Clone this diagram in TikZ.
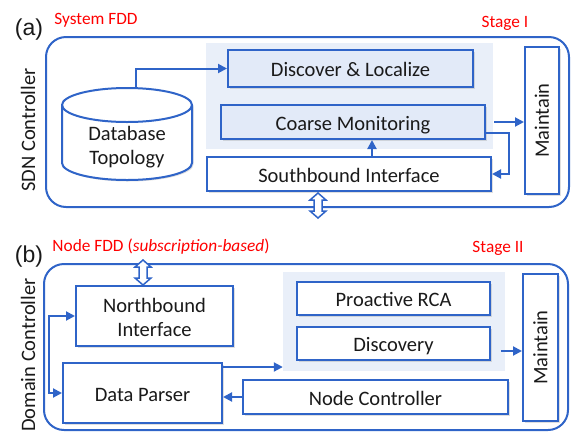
\documentclass[tikz,border=0pt]{standalone}
\usepackage{fontspec}
\setmainfont{Carlito}
\newfontfamily\arialf{Liberation Sans}
\usetikzlibrary{arrows.meta,shadows}
\definecolor{blu}{RGB}{47,100,200}
\definecolor{shd}{RGB}{233,239,249}
\definecolor{bxf}{RGB}{226,234,248}
\definecolor{txt}{RGB}{26,26,26}
\begin{document}
\begin{tikzpicture}[x=1pt,y=-1pt,
  body/.style={font=\fontsize{20.5}{24}\selectfont, text=txt},
  box/.style={body, draw=blu, line width=2pt, fill=white, inner sep=0pt, align=center,
     text height=16pt, text depth=0pt,
     drop shadow={shadow xshift=1.5pt, shadow yshift=-1.5pt, opacity=0.25}},
  twoline/.style={text height=40pt, text depth=0pt},
  outer/.style={draw=blu, line width=2pt, rounded corners=20pt, inner sep=0pt},
  shade/.style={fill=shd, inner sep=0pt},
  redlab/.style={text=red, font=\fontsize{17.3}{20}\selectfont, inner sep=0pt},
  panel/.style={text=txt, font=\arialf\fontsize{23}{26}\selectfont, inner sep=0pt},
  arr/.style={draw=blu, line width=2pt, -{Triangle[length=9pt,width=9pt]}},
  arrb/.style={draw=blu, line width=2pt, {Triangle[length=9pt,width=9pt]}-{Triangle[length=9pt,width=9pt]}},
  dbl/.pic={\draw[blu, line width=1.5pt, fill=white, line join=miter]
     (0,-12.5) -- (8,-5.5) -- (4,-5.5) -- (4,5.5) -- (8,5.5) -- (0,12.5)
     -- (-8,5.5) -- (-4,5.5) -- (-4,-5.5) -- (-8,-5.5) -- cycle;}
]
\useasboundingbox (0,0) rectangle (571,432);

% ---------------- (a) ----------------
\node[panel] (pa) at (29,30) {(a)};
\node[redlab] (sysfdd) at (96,20) {System FDD};
\node[redlab] (st1) at (505,23) {Stage I};
\node[outer, minimum width=523pt, minimum height=170pt] (oa) at (307.5,122) {};
\node[body, rotate=90, inner sep=0pt] (sdn) at (28,130) {SDN Controller};
\node[shade, minimum width=287pt, minimum height=106pt] (sha) at (349.5,96) {};
\node[box, fill=bxf, minimum width=245pt, minimum height=37pt] (dl) at (350.5,68.5) {Discover \& Localize};
\node[box, fill=bxf, minimum width=264pt, minimum height=34pt] (cm) at (353,122) {Coarse Monitoring};
\node[box, minimum width=284pt, minimum height=34pt] (sb) at (349,174) {Southbound Interface};
\node[box, minimum width=34pt, minimum height=147pt] (ma) at (542,120.5) {};
\node[body, rotate=90, inner sep=0pt] (mat) at (ma) {Maintain};

% cylinder
\draw[blu, line width=2pt, fill=white,
      drop shadow={shadow xshift=1.5pt, shadow yshift=-1.5pt, opacity=0.25}]
  (62,105) -- (62,163) arc[start angle=180, end angle=360, x radius=65pt, y radius=17pt]
  -- (192,105) arc[start angle=0, end angle=180, x radius=65pt, y radius=17pt] -- cycle;
\draw[blu, line width=2pt] (62,105) arc[start angle=180, end angle=360, x radius=65pt, y radius=17pt];
\node[body, align=center, inner sep=0pt, twoline] (db) at (127,144) {Database\\Topology};
\coordinate (dbtop) at (136,88.5);

\draw[arr] (dbtop) |- (dl.west);
\draw[arr] ([xshift=8pt]cm.east) -- (ma.west |- cm.east);
\draw[arr] ([yshift=-11pt]cm.east) -- ++(23,0) |- (sb.east);
\draw[arr] ([xshift=23pt]sb.north) -- ([xshift=23pt]sb.north |- cm.south);
\pic at (318,205.5) {dbl};

% ---------------- (b) ----------------
\node[panel] (pb) at (29,257) {(b)};
\node[redlab] (nfdd) at (161,247) {Node FDD (\textit{subscription-based})};
\node[redlab] (st2) at (498,248) {Stage II};
\node[outer, minimum width=524pt, minimum height=166pt] (ob) at (306,347) {};
\node[body, rotate=90, inner sep=0pt] (dom) at (28,355) {Domain Controller};
\node[shade, minimum width=222pt, minimum height=99pt] (shb) at (394,321.5) {};
\node[box, twoline, minimum width=157pt, minimum height=60pt] (nb) at (154.5,316) {Northbound\\Interface};
\node[box, minimum width=159pt, minimum height=60pt] (dp) at (142.5,393) {Data Parser};
\node[box, minimum width=193pt, minimum height=33pt] (pr) at (393.5,298.5) {Proactive RCA};
\node[box, minimum width=193pt, minimum height=33pt] (dv) at (393.5,343.5) {Discovery};
\node[box, minimum width=265pt, minimum height=34pt] (nc) at (375.5,397) {Node Controller};
\node[box, minimum width=35pt, minimum height=147pt] (mb) at (540.5,347.5) {};
\node[body, rotate=90, inner sep=0pt] (mbt) at (mb) {Maintain};

\coordinate (dvo) at ([xshift=10pt,yshift=-7.5pt]dv.east);
\draw[arr] (dvo) -- (mb.west |- dvo);
\coordinate (dpo) at ([yshift=-5pt]dp.north east);
\draw[arr] (dpo) -- (shb.west |- dpo);
\draw[arr] (nc.west) -- (dp.east |- nc.west);
\draw[arrb] (nb.west) -- ++(-26,0) |- (dp.west);
\pic at (143,272.5) {dbl};
\end{tikzpicture}
\end{document}
